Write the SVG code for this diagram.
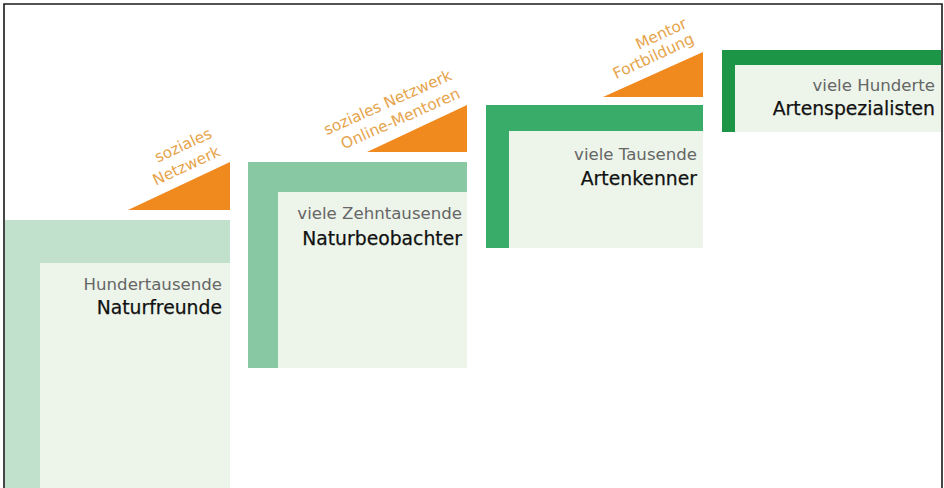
<svg xmlns="http://www.w3.org/2000/svg" width="944" height="488" viewBox="0 0 944 488">
<style>
  .inner { fill: #edf5eb; }
  .sub { font-family: "DejaVu Sans", Verdana, sans-serif; font-size: 16.6px; fill: #666666; text-anchor: end; }
  .main { font-family: "DejaVu Sans", Verdana, sans-serif; font-size: 18.8px; fill: #111111; stroke: #111111; stroke-width: 0.25; text-anchor: end; }
  .tri { fill: #f18a1e; }
  .lbl { font-family: "DejaVu Sans", Verdana, sans-serif; font-size: 15.4px; fill: #e6a44c; text-anchor: end; }
  .frame { fill: none; stroke: #1a1a1a; stroke-width: 1.6; }
</style>
<rect width="944" height="488" fill="#ffffff"/>

<g id="step1">
  <rect x="5" y="220" width="225" height="268" fill="#c1e1cd"/>
  <rect class="inner" x="40" y="263" width="190" height="225"/>
  <text class="sub" x="222" y="290">Hundertausende</text>
  <text class="main" x="222" y="314">Naturfreunde</text>
</g>

<g id="step2">
  <rect x="248" y="162" width="219" height="206" fill="#88c8a2"/>
  <rect class="inner" x="278" y="192" width="189" height="176"/>
  <text class="sub" x="462" y="219">viele Zehntausende</text>
  <text class="main" x="462" y="245">Naturbeobachter</text>
</g>

<g id="step3">
  <rect x="486" y="105" width="217" height="143" fill="#38ac68"/>
  <rect class="inner" x="509" y="131" width="194" height="117"/>
  <text class="sub" x="697" y="160">viele Tausende</text>
  <text class="main" x="697" y="185">Artenkenner</text>
</g>

<g id="step4">
  <rect x="722" y="50" width="219" height="82" fill="#1c9546"/>
  <rect class="inner" x="735" y="65" width="206" height="67"/>
  <text class="sub" x="935" y="91">viele Hunderte</text>
  <text class="main" x="935" y="115">Artenspezialisten</text>
</g>

<g id="connectors">
  <g id="transition1">
    <polygon class="tri" points="128,210 230,210 230,162"/>
    <g transform="translate(213,137) rotate(-25)">
      <text class="lbl" x="0" y="0">soziales</text>
      <text class="lbl" x="0" y="20">Netzwerk</text>
    </g>
  </g>
  <g id="transition2">
    <polygon class="tri" points="367,152 467,152 467,105"/>
    <g transform="translate(453,79) rotate(-24)">
      <text class="lbl" x="0" y="0">soziales Netzwerk</text>
      <text class="lbl" x="0" y="20">Online-Mentoren</text>
    </g>
  </g>
  <g id="transition3">
    <polygon class="tri" points="603,97 703,97 703,52"/>
    <g transform="translate(688,27) rotate(-25)">
      <text class="lbl" x="0" y="0">Mentor</text>
      <text class="lbl" x="0" y="17">Fortbildung</text>
    </g>
  </g>
</g>

<path class="frame" d="M4,488 V4 H942 V488"/>
</svg>
